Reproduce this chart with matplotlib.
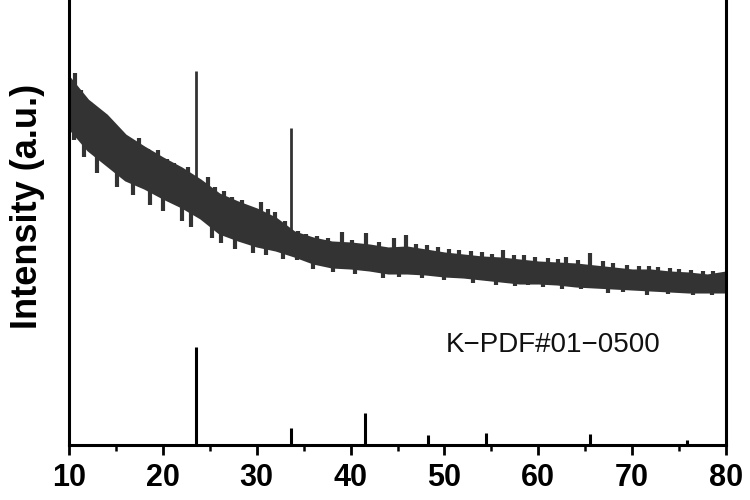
import numpy as np
import matplotlib
matplotlib.use("Agg")
import matplotlib.pyplot as plt

plt.rcParams["font.family"] = ["Liberation Sans", "DejaVu Sans"]

# --- data (intensity in arbitrary units) ---
two_theta = np.arange(10, 81, 2)
band_upper = [368, 345, 330, 310, 298, 287, 277, 265, 251, 243, 236, 227,
              213, 207, 203, 202, 200, 197, 198, 195, 192, 190, 188, 187,
              185, 183, 182, 181, 179, 177, 175, 175, 173, 172, 170, 173]
band_lower = [317, 295, 280, 265, 257, 247, 238, 227, 212, 205, 199, 195,
              189, 182, 178, 177, 175, 172, 172, 171, 169, 168, 166, 164,
              162, 162, 161, 159, 158, 157, 156, 155, 154, 153, 153, 153]

# noise spikes above / below the band
spike_up_x = [10.6, 11.3, 12.2, 13.5, 14.4, 15.3, 16.2, 17.5, 18.4, 19.5,
              20.4, 21.2, 22.7, 24.8, 25.6, 26.5, 27.4, 28.4, 29.2, 30.5,
              31.2, 32.0, 33.0, 34.4, 35.3, 36.4, 37.6, 39.1, 40.2, 41.6,
              43.0, 44.6, 45.9, 47.0, 48.1, 49.3, 50.5, 51.6, 52.8, 54.0,
              55.1, 56.2, 57.4, 58.5, 59.7, 61.0, 62.1, 63.0, 64.2, 65.5,
              66.9, 68.0, 69.5, 70.7, 71.8, 72.8, 74.0, 75.0, 76.3, 77.5,
              78.6]
spike_up_y = [372, 355, 343, 333, 322, 312, 307, 307, 296, 295,
              286, 282, 278, 268, 258, 254, 248, 245, 238, 243,
              236, 233, 224, 214, 211, 209, 207, 213, 205, 212,
              203, 207, 210, 201, 200, 198, 196, 195, 194, 193,
              191, 195, 190, 190, 188, 187, 186, 188, 185, 192,
              184, 182, 180, 179, 179, 178, 177, 176, 175, 174,
              174]
spike_dn_x = [10.5, 11.6, 13.0, 15.1, 16.8, 18.6, 20.0, 22.0, 23.0, 25.2,
              26.2, 27.7, 29.6, 31.0, 32.8, 34.3, 36.0, 38.1, 40.5, 43.5,
              45.2, 47.6, 50.0, 53.0, 55.5, 57.5, 58.9, 60.5, 62.5, 64.5,
              67.4, 69.0, 71.6, 73.8, 76.5, 78.5]
spike_dn_y = [305, 288, 272, 258, 250, 240, 234, 224, 218, 207,
              202, 196, 192, 190, 186, 185, 176, 173, 171, 167,
              168, 167, 165, 162, 160, 159, 160, 158, 156, 156,
              152, 153, 150, 151, 150, 150]

# sample reflections
peak_x = [23.5, 33.7]
peak_top = [374, 317]
peak_base = [255, 205]

# reference pattern K-PDF#01-0500
ref_x = [23.5, 33.6, 41.5, 48.3, 54.4, 65.5, 75.8]
ref_h = [98, 17, 32, 10, 12, 11, 5]

# --- figure ---
fig = plt.figure(figsize=(7.5, 5), dpi=100)
ax = fig.add_axes([0.092, 0.11, 0.876, 0.89])

trace = "#333333"
ax.fill_between(two_theta, band_lower, band_upper, color=trace, lw=1.5,
                edgecolor=trace)
up = np.array(spike_up_y)
ax.vlines(spike_up_x, up - 20, up, color=trace, lw=3)
dn = np.array(spike_dn_y)
ax.vlines(spike_dn_x, dn, dn + 20, color=trace, lw=3)
ax.vlines(peak_x, peak_base, peak_top, color=trace, lw=2)

ax.vlines(ref_x, 0, ref_h, color="black", lw=2.2)
ax.text(61.6, 100, "K\u2212PDF#01\u22120500", fontsize=20, ha="center",
        va="center", color="#111111")

ax.set_xlim(10, 80)
ax.set_ylim(0, 445)
ax.set_xticks(range(10, 81, 10))
ax.set_xticks(range(15, 80, 10), minor=True)
ax.set_yticks([])
ax.tick_params(axis="x", which="major", direction="out", length=7, width=2,
               labelsize=22, pad=6)
ax.tick_params(axis="x", which="minor", direction="out", length=4, width=1.8)
for lab in ax.get_xticklabels():
    lab.set_fontweight("bold")
for side in ["left", "right", "bottom"]:
    ax.spines[side].set_linewidth(2.2)
ax.spines["top"].set_visible(False)

ax.set_ylabel("Intensity (a.u.)", fontsize=26, fontweight="bold")
ax.yaxis.set_label_coords(-0.037, 0.535)

fig.savefig("out.png", dpi=100)
